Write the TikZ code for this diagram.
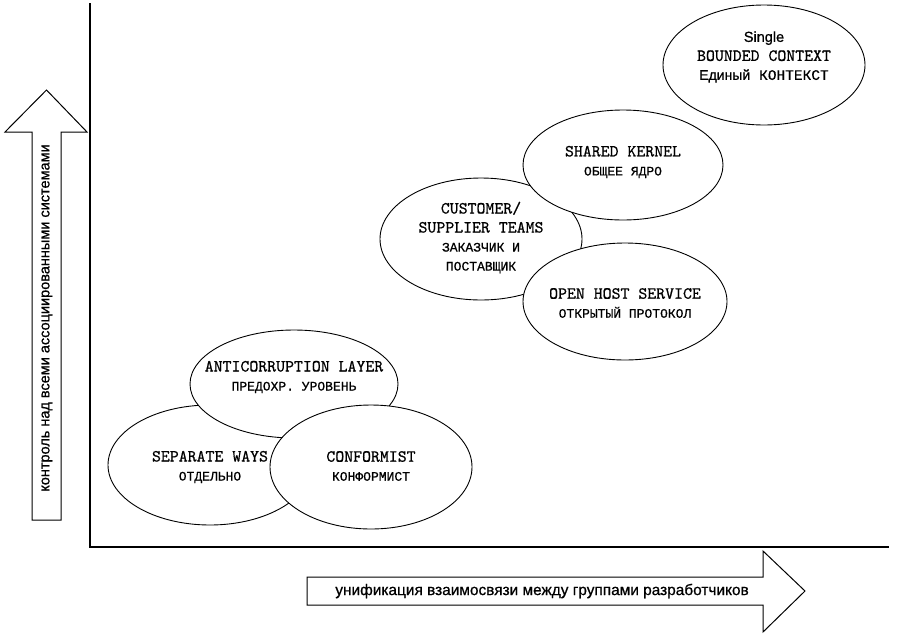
\documentclass[tikz,border=0pt]{standalone}
\usepackage{fontspec}
\setmainfont{Liberation Serif}
\newfontfamily\monof[FakeBold=0.6]{Liberation Mono}
\newfontfamily\latmono[Extension=.otf, FakeBold=0.7]{lmmono10-regular}
\newfontfamily\sansf[FakeBold=0.8]{Liberation Sans}
\usetikzlibrary{shapes.geometric}
\tikzset{
  ctx/.style={ellipse, draw=black, line width=0.9pt, fill=white, inner sep=0pt},
  ctxtext/.style={align=center, inner sep=0pt, font=\latmono\fontsize{17}{19}\selectfont},
  axisline/.style={draw=black, line width=1.4pt},
  bigarrow/.style={draw=black, line width=1pt, fill=white, line join=miter},
  arrowtext/.style={inner sep=0pt, font=\sansf\fontsize{14.5}{17}\selectfont}
}
\newcommand{\rus}[1]{{\monof\fontsize{13}{19}\selectfont #1}}
\begin{document}
\begin{tikzpicture}[x=1pt,y=-1pt]
\useasboundingbox (0,0) rectangle (899,635);
% axes
\coordinate (ytop) at (90,3);
\coordinate (origin) at (90,547);
\coordinate (xend) at (889,547);
\draw[axisline] (ytop) -- (origin) -- (xend);
% vertical arrow
\draw[bigarrow] (32,520) -- (32,132) -- (5,132) -- (46.5,90) -- (87,132) -- (61,132) -- (61,520) -- cycle;
\node[arrowtext, rotate=90] (ylab) at (47,318) {контроль над всеми ассоциированными системами};
% horizontal arrow
\draw[bigarrow] (307,577) -- (763,577) -- (763,551) -- (805,591) -- (763,632) -- (763,605) -- (307,605) -- cycle;
\node[arrowtext, font=\sansf\fontsize{15.4}{17}\selectfont] (xlab) at (542,591) {унификация взаимосвязи между группами разработчиков};
% lower group
\node[ctx, minimum width=204pt, minimum height=120pt] (sw) at (210,465) {};
\node[ctxtext] (swt) at (210,467) {SEPARATE WAYS\\\rus{ОТДЕЛЬНО}};
\node[ctx, minimum width=208pt, minimum height=108pt] (acl) at (294,384) {};
\node[ctxtext] (aclt) at (294,377) {ANTICORRUPTION LAYER\\\rus{ПРЕДОХР. УРОВЕНЬ}};
\node[ctx, minimum width=202pt, minimum height=124pt] (conf) at (371,467) {};
\node[ctxtext] (conft) at (371,466) {CONFORMIST\\\rus{КОНФОРМИСТ}};
% upper group
\node[ctx, minimum width=202pt, minimum height=122pt] (cst) at (481,239) {};
\node[ctxtext] (cstt) at (481,237.5) {CUSTOMER/\\SUPPLIER TEAMS\\\rus{ЗАКАЗЧИК И}\\\rus{ПОСТАВЩИК}};
\node[ctx, minimum width=200pt, minimum height=110pt] (sk) at (623,165) {};
\node[ctxtext] (skt) at (623,162) {SHARED KERNEL\\\rus{ОБЩЕЕ ЯДРО}};
\node[ctx, minimum width=204pt, minimum height=117pt] (ohs) at (625,301.5) {};
\node[ctxtext] (ohst) at (625,303) {OPEN HOST SERVICE\\\rus{ОТКРЫТЫЙ ПРОТОКОЛ}};
\node[ctx, minimum width=202pt, minimum height=120pt] (single) at (764,65) {};
\node[ctxtext] (singlet) at (764,57) {{\sansf\fontsize{14.5}{19}\selectfont Single}\\BOUNDED CONTEXT\\{\sansf\fontsize{14}{19}\selectfont Единый} {\monof\fontsize{14.5}{19}\selectfont КОНТЕКСТ}};
\end{tikzpicture}
\end{document}
